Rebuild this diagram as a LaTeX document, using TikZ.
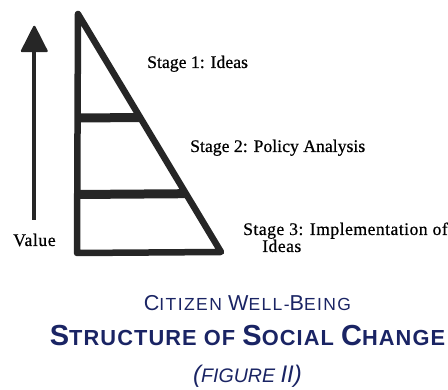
\documentclass[tikz,border=0pt]{standalone}
\usepackage{fontspec}
\setmainfont{Liberation Serif}[FakeBold=0.6]
\newfontfamily\titlefont{Liberation Sans}
\usetikzlibrary{calc}
\definecolor{navy}{RGB}{26,36,100}
\definecolor{ink}{RGB}{38,38,38}
\newcommand\bigA{\fontsize{21.6}{24}\selectfont}
\newcommand\smallA{\fontsize{17.5}{20}\selectfont}
\newcommand\bigB{\fontsize{29}{32}\selectfont}
\newcommand\smallB{\fontsize{21.8}{24}\selectfont}
\newcommand\bigC{\fontsize{24}{26}\selectfont}
\newcommand\smallC{\fontsize{19.6}{22}\selectfont}
\begin{document}
\begin{tikzpicture}[x=1pt,y=-1pt,
  edge/.style={draw=ink,line width=6.5pt,line join=round,line cap=round},
  bar/.style={draw=ink,line width=9pt},
  stagelabel/.style={anchor=base west,inner sep=0pt,text=black,font=\fontsize{17.7}{20}\selectfont},
  titleline/.style={anchor=base,inner sep=0pt,text=navy}]
\useasboundingbox (0,0) rectangle (448,390);
% triangle
\coordinate (A) at (78,14);
\coordinate (B) at (77,253);
\coordinate (C) at (221,252);
\coordinate (L1) at (77,118);
\coordinate (L2) at (77,194.5);
\coordinate (R1) at ($(A)!0.435!(C)$);
\coordinate (R2) at ($(A)!0.755!(C)$);
\draw[bar] (L1) -- (R1);
\draw[bar] (L2) -- (R2);
\draw[edge] (A) -- (B) -- (C) -- cycle;
% value arrow
\coordinate (Vb) at (34.3,220);
\coordinate (Vt) at (34.3,48);
\coordinate (H1) at (34.3,27);
\coordinate (H2) at (46.5,51);
\coordinate (H3) at (22.1,51);
\draw[draw=ink,line width=4.3pt] (Vb) -- (Vt);
\filldraw[fill=ink,draw=ink,line width=2.5pt,line join=round] (H1) -- (H2) -- (H3) -- cycle;
% labels
\node[stagelabel] (s1) at (147,68) {Stage 1: Ideas};
\node[stagelabel] (s2) at (190,152) {Stage 2: Policy Analysis};
\node[stagelabel] (s3) at (243,235) {\addfontfeatures{LetterSpace=2.5}Stage 3: Implementation of};
\node[stagelabel] (s3b) at (262,252) {\addfontfeatures{LetterSpace=2.5}Ideas};
\node[stagelabel] (val) at (13,246) {\addfontfeatures{LetterSpace=3}Value};
% title
\node[titleline,font=\titlefont\addfontfeatures{LetterSpace=8}] (t1) at (247.5,311) {\bigA C\smallA ITIZEN \bigA W\smallA ELL-\bigA B\smallA EING};
\node[titleline,font=\titlefont\bfseries\addfontfeatures{LetterSpace=5}] (t2) at (247.5,346) {\bigB S\smallB TRUCTURE OF \bigB S\smallB OCIAL \bigB C\smallB HANGE};
\node[titleline,font=\titlefont\itshape] (t3) at (247.5,383) {\bigC (\smallC FIGURE \bigC II)};
\end{tikzpicture}
\end{document}
